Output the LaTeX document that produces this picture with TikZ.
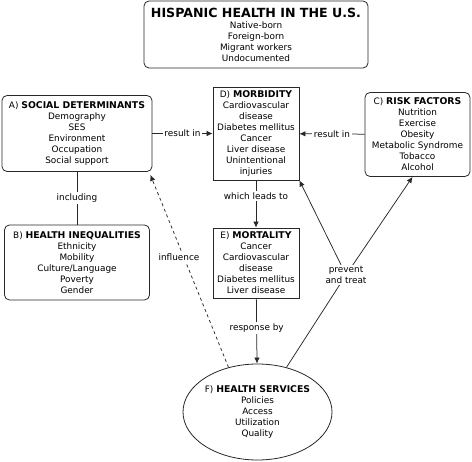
\documentclass[tikz,border=0pt]{standalone}
\usepackage{fontspec}
\setmainfont{DejaVu Sans}
\usepackage{tikz}
\usetikzlibrary{positioning, shapes, arrows.meta}
\definecolor{LineGray}{RGB}{40, 40, 40}
\newcommand{\headtext}[1]{{\fontsize{9.3}{11}\selectfont\bfseries #1}}

\begin{document}
\begin{tikzpicture}[
    x=1pt, y=-1pt,
    every node/.style={align=center, font=\fontsize{8.9}{11}\selectfont},
    roundbox/.style={draw=LineGray, line width=0.8pt, rectangle, rounded corners=5pt, inner sep=1pt},
    squarebox/.style={draw=LineGray, line width=0.8pt, rectangle, inner sep=1pt},
    linktext/.style={fill=white, inner sep=1.5pt},
    link/.style={draw=LineGray, line width=0.75pt},
    tip/.style={link, -{Latex[length=6pt, width=5.5pt]}}
  ]
    \useasboundingbox (0,0) rectangle (472,462);
    % title
    \node[roundbox, minimum width=224pt, minimum height=67pt] (title) at (256,34.5)
      {{\fontsize{12.6}{13}\selectfont\bfseries HISPANIC HEALTH IN THE U.S.}\\Native-born\\Foreign-born\\Migrant workers\\Undocumented};
    % boxes
    \node[roundbox, minimum width=150pt, minimum height=76pt] (social) at (77,133.5)
      {A) \headtext{SOCIAL DETERMINANTS}\\Demography\\SES\\Environment\\Occupation\\Social support};
    \node[roundbox, minimum width=145pt, minimum height=75pt] (inequal) at (77,262.5)
      {B) \headtext{HEALTH INEQUALITIES}\\Ethnicity\\Mobility\\Culture/Language\\Poverty\\Gender};
    \node[roundbox, minimum width=105pt, minimum height=84pt] (risk) at (417.5,134.5)
      {C) \headtext{RISK FACTORS}\\Nutrition\\Exercise\\Obesity\\Metabolic Syndrome\\Tobacco\\Alcohol};
    \node[squarebox, minimum width=86pt, minimum height=93pt] (morb) at (256,133.5)
      {D) \headtext{MORBIDITY}\\Cardiovascular\\disease\\Diabetes mellitus\\Cancer\\Liver disease\\Unintentional\\injuries};
    \node[squarebox, minimum width=86pt, minimum height=70pt] (mort) at (256,263)
      {E) \headtext{MORTALITY}\\Cancer\\Cardiovascular\\disease\\Diabetes mellitus\\Liver disease};
    \node[draw=LineGray, line width=0.8pt, ellipse, minimum width=149pt, minimum height=96pt, inner sep=0pt] (serv) at (257.5,412)
      {F) \headtext{HEALTH SERVICES}\\Policies\\Access\\Utilization\\Quality};

    % connectors
    \draw[tip] (social) -- node[linktext] {result in} (morb);
    \draw[tip] (risk) -- node[linktext] {result in} (morb);
    \draw[link] (social) -- node[linktext] {including} (inequal);
    \draw[tip] (morb) -- node[linktext, pos=0.33] {which leads to} (mort);
    \draw[tip] (mort) -- node[linktext, pos=0.45] {response by} (serv);
    \draw[tip, dashed] (serv.123) -- node[linktext, pos=0.57, xshift=-5pt] {influence} ([xshift=-2pt, yshift=-3pt]social.south east);

    \coordinate (junct) at (346,275);
    \draw[link] (serv.57) -- (junct);
    \draw[tip] (junct) -- (morb.south east);
    \draw[tip] (junct) -- ([xshift=-5pt]risk.south);
    \node[linktext] (prevlabel) at (junct) {prevent\\and treat};
\end{tikzpicture}
\end{document}
